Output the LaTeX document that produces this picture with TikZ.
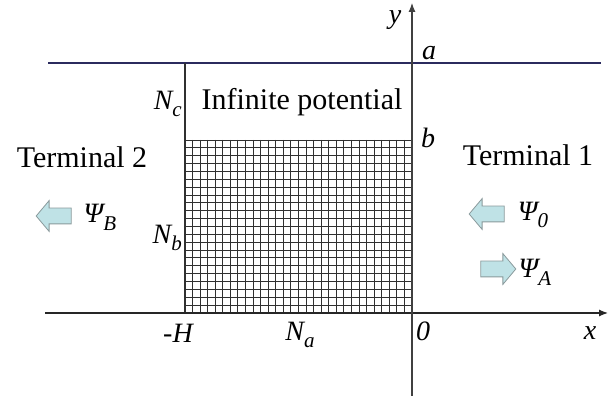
\documentclass[tikz,border=0pt]{standalone}
\usepackage{fontspec}
\setmainfont{Liberation Serif}
\usetikzlibrary{arrows.meta,shapes.arrows}
\definecolor{navy}{HTML}{2B2B5E}
\definecolor{gridgray}{HTML}{303030}
\definecolor{arrfill}{HTML}{BFE2E6}
\definecolor{arrdraw}{HTML}{8A9A9C}
\tikzset{
  big/.style={font=\fontsize{30}{32}\selectfont},
  lbl/.style={font=\fontsize{28}{30}\selectfont\itshape, inner sep=1pt},
  barrow/.style={single arrow, draw=arrdraw, fill=arrfill, line width=0.8pt,
    inner sep=0pt, minimum height=35pt, single arrow head extend=7.5pt,
    single arrow tip angle=100},
}
\newcommand{\barbody}{\rule{0pt}{15pt}}
\newcommand{\mysub}[1]{\raisebox{-0.28em}{\fontsize{21}{21}\selectfont #1}}
\begin{document}
\begin{tikzpicture}[x=1pt,y=-1pt]
\useasboundingbox (0,0) rectangle (614,398);
% grid
\foreach \i in {0,...,30} \draw[gridgray, line width=0.95pt] ({185+\i*227/30},140) -- ({185+\i*227/30},313);
\foreach \j in {0,...,22} \draw[gridgray, line width=0.95pt] (185,{140+\j*173/22}) -- (412,{140+\j*173/22});
% coordinates
\coordinate (tl) at (48,63);
\coordinate (tr) at (601,63);
\coordinate (xl) at (45,313);
\coordinate (xr) at (608,313);
\coordinate (yb) at (412,396);
\coordinate (yt) at (412,3);
\coordinate (bl) at (185,63);
\coordinate (bb) at (185,313);
% lines
\draw[navy, line width=1.4pt] (tl) -- (tr);
\draw[gridgray, line width=1.1pt] (bl) -- (bb);
\draw[black!85, line width=1.2pt, -{Latex[length=9pt,width=7pt]}] (xl) -- (xr);
\draw[black!75, line width=1.1pt, -{Latex[length=9pt,width=7pt]}] (yb) -- (yt);
% labels
\node[lbl] (ly) at (395,20) {y};
\node[lbl] (la) at (429,53) {a};
\node[lbl] (lb) at (428,138) {b};
\node[lbl, anchor=east] (lnc) at (183,104) {N\mysub{c}};
\node[lbl, anchor=east] (lnb) at (183,238) {N\mysub{b}};
\node[big] (inf) at (302,102) {Infinite potential};
\node[big] (t2) at (82,157) {Terminal 2};
\node[big] (t1) at (528,155) {Terminal 1};
\node[lbl] (lh) at (178,333) {-H};
\node[lbl] (lna) at (300,335) {N\mysub{a}};
\node[lbl] (l0) at (423,331) {0};
\node[lbl] (lx) at (590,333) {x};
% block arrows
\node[barrow, shape border rotate=180] (aB) at (57,216) {\barbody};
\node[barrow, shape border rotate=180] (a0) at (490,214) {\barbody};
\node[barrow] (aA) at (495,269) {\barbody};
\node[lbl] (psiB) at (100,217) {Ψ\mysub{B}};
\node[lbl] (psi0) at (533,215) {Ψ\mysub{0}};
\node[lbl] (psiA) at (535,272) {Ψ\mysub{A}};
\end{tikzpicture}
\end{document}
